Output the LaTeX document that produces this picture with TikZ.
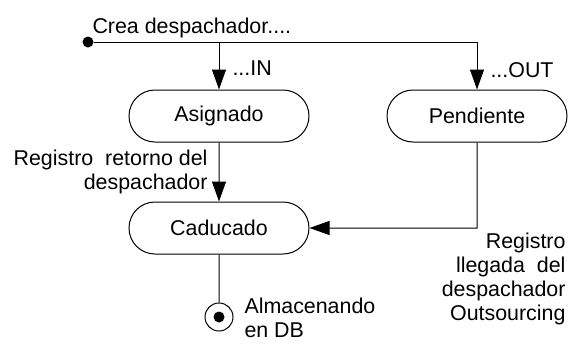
\documentclass[tikz,border=0pt]{standalone}
\usepackage{fontspec}
\setmainfont{Liberation Sans}
\usetikzlibrary{arrows.meta,shapes.misc}

\begin{document}
\begin{tikzpicture}
[
x=0.5pt,y=-0.5pt,
line width=0.5pt,
font=\fontsize{10.7}{12}\selectfont,
tip/.style={-{Triangle[length=10pt,width=7pt]}},
state/.style={draw,rounded rectangle,minimum width=90pt,minimum height=26pt,inner sep=0pt},
startdot/.style={fill,circle,inner sep=0pt,minimum size=5.5pt},
txt/.style={inner sep=0pt},
]
\useasboundingbox (0,0) rectangle (568,343);

%Place the nodes
\node[startdot] (s) at (88,42) {};
\coordinate (j1) at (219,42);
\coordinate (j2) at (477,42);
\node[state] (a) at (219,116) {Asignado};
\node[state] (p) at (477,116) {Pendiente};
\node[state] (c) at (219,228) {Caducado};
\coordinate (k) at (477,228);
\node[draw,circle,inner sep=0pt,minimum size=14pt] (f) at (219,317) {};
\node[startdot,minimum size=5.5pt] at (f) {};

%Place the labels
\node[txt,anchor=base west] (t0) at (92,33) {Crea despachador....};
\node[txt,anchor=base west] (t1) at (232,75) {...IN};
\node[txt,anchor=base west] (t2) at (490,77) {...OUT};
\node[txt,anchor=east,align=right] (t3) at (208,172) {Registro\ \ retorno del\\despachador};
\node[txt,anchor=east,align=right] (t4) at (566,279) {Registro\\llegada\ \ del\\despachador\\Outsourcing};
\node[txt,anchor=west,align=left] (t5) at (244,318) {Almacenando\\en DB};

%Draw the connections
\draw (s) -- (j2);
\draw[tip] (j1) -- (a);
\draw[tip] (j2) -- (p);
\draw[tip] (a) -- (c);
\draw[tip] (p) -- (k) -- (c);
\draw (c) -- (f);
\end{tikzpicture}
\end{document}
